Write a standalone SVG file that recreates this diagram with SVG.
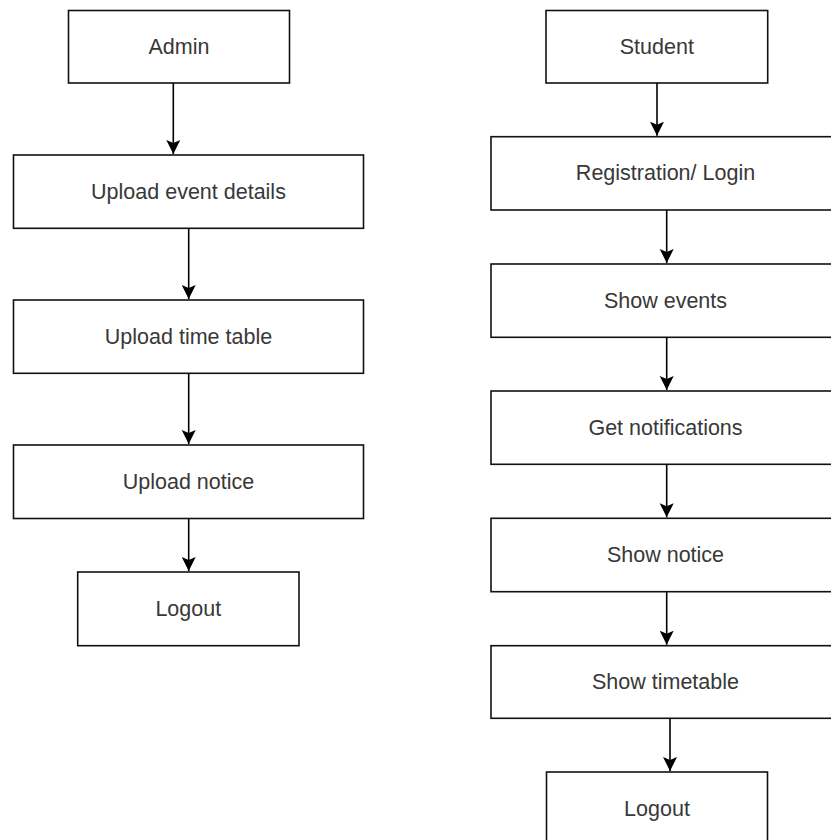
<svg xmlns="http://www.w3.org/2000/svg" width="831" height="840" viewBox="0 0 831 840">
<defs>
<style>
.box{fill:#fff;stroke:#111;stroke-width:1.6}
.lbl{font-family:"Liberation Sans",Arial,sans-serif;font-size:21.5px;fill:#383838;text-anchor:middle}
.edge{stroke:#000;stroke-width:1.6;fill:none}
</style>
<marker id="arr" markerUnits="userSpaceOnUse" markerWidth="16" markerHeight="16" refX="14" refY="7.5" orient="auto">
<path d="M0,0.5 L14,7.5 L0,14.5 L3,7.5 z" fill="#000"/>
</marker>
</defs>
<rect width="831" height="840" fill="#fff"/>
<g id="admin"><rect class="box" x="68.5" y="10.5" width="221" height="72.5"/><text class="lbl" x="179" y="53.5">Admin</text></g>
<g id="upload-event"><rect class="box" x="13.5" y="155" width="350" height="73.3"/><text class="lbl" x="188.5" y="198.5">Upload event details</text></g>
<g id="upload-timetable"><rect class="box" x="13.5" y="300" width="350" height="73.3"/><text class="lbl" x="188.5" y="343.5">Upload time table</text></g>
<g id="upload-notice"><rect class="box" x="13.5" y="445" width="350" height="73.5"/><text class="lbl" x="188.5" y="488.5">Upload notice</text></g>
<g id="admin-logout"><rect class="box" x="77.7" y="572" width="221.3" height="73.7"/><text class="lbl" x="188.3" y="615.5">Logout</text></g>

<g id="student"><rect class="box" x="546" y="10.5" width="221.7" height="72.5"/><text class="lbl" x="656.8" y="53.5">Student</text></g>
<g id="registration"><rect class="box" x="491" y="136.7" width="350" height="73.3"/><text class="lbl" x="665.5" y="180">Registration/ Login</text></g>
<g id="show-events"><rect class="box" x="491" y="264" width="350" height="73.3"/><text class="lbl" x="665.5" y="307.5">Show events</text></g>
<g id="get-notifications"><rect class="box" x="491" y="391" width="350" height="73.3"/><text class="lbl" x="665.5" y="434.5">Get notifications</text></g>
<g id="show-notice"><rect class="box" x="491" y="518.3" width="350" height="73.4"/><text class="lbl" x="665.5" y="561.8">Show notice</text></g>
<g id="show-timetable"><rect class="box" x="491" y="645.7" width="350" height="72.6"/><text class="lbl" x="665.5" y="688.8">Show timetable</text></g>
<g id="student-logout"><rect class="box" x="546.5" y="772" width="221" height="73"/><text class="lbl" x="657" y="815.5">Logout</text></g>

<g id="connectors">
<line class="edge" x1="173.3" y1="83" x2="173.3" y2="154" marker-end="url(#arr)"/>
<line class="edge" x1="188.7" y1="228.3" x2="188.7" y2="299" marker-end="url(#arr)"/>
<line class="edge" x1="188.7" y1="373.3" x2="188.7" y2="444" marker-end="url(#arr)"/>
<line class="edge" x1="188.7" y1="518.5" x2="188.7" y2="571" marker-end="url(#arr)"/>
<line class="edge" x1="657" y1="83" x2="657" y2="135.7" marker-end="url(#arr)"/>
<line class="edge" x1="666.7" y1="210" x2="666.7" y2="263" marker-end="url(#arr)"/>
<line class="edge" x1="666.7" y1="337.3" x2="666.7" y2="390" marker-end="url(#arr)"/>
<line class="edge" x1="666.7" y1="464.3" x2="666.7" y2="517.3" marker-end="url(#arr)"/>
<line class="edge" x1="666.7" y1="591.7" x2="666.7" y2="644.7" marker-end="url(#arr)"/>
<line class="edge" x1="670" y1="718.3" x2="670" y2="771" marker-end="url(#arr)"/>
</g>
</svg>
